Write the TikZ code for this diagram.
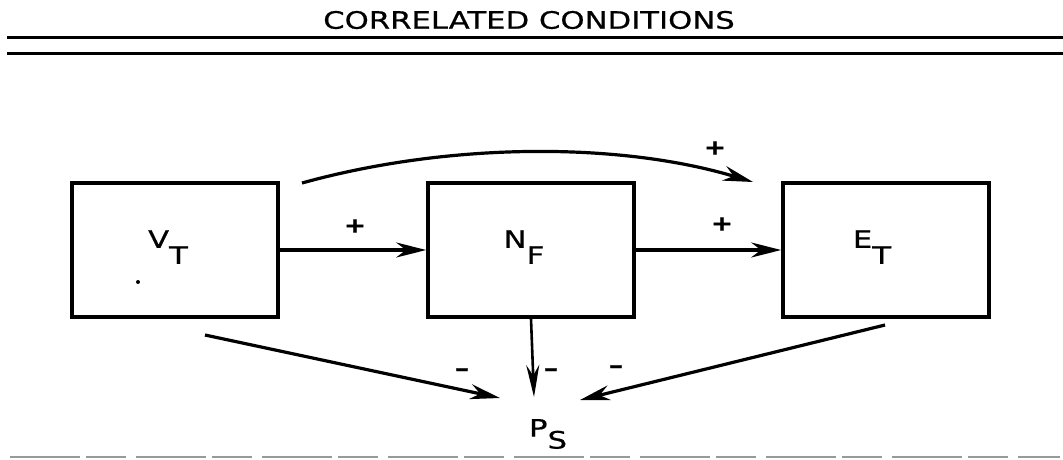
\documentclass[tikz,border=0pt]{standalone}
\usepackage{fontspec}
\setmainfont{DejaVu Sans}
\newfontfamily\lettering[FakeStretch=1.28, FakeBold=0.6]{DejaVu Sans}
\usetikzlibrary{arrows.meta, positioning}

\begin{document}
\begin{tikzpicture}[x=1pt, y=-1pt, >={Stealth[length=30pt, width=15pt]}, line width=3.2pt,
  block/.style={draw, line width=3.6pt, minimum width=206pt, minimum height=134pt, inner sep=0pt},
  varname/.style={font=\lettering\fontsize{24}{24}\selectfont, inner sep=0pt},
  sign/.style={font=\lettering\bfseries\fontsize{21}{21}\selectfont, inner sep=0pt},
  flow/.style={->, line width=3.2pt}]

\useasboundingbox (0,0) rectangle (1063,459);

% Title and double rule
\node[font=\lettering\fontsize{24}{24}\selectfont, inner sep=0pt] (title) at (529,20)
  {CORRELATED CONDITIONS};
\draw[line width=3pt] (7,37) -- (1063,37);
\draw[line width=3pt] (7,53) -- (1063,53);

% --- Boxes ---
\node[block] (vt) at (175,250) {};
\node[block] (nf) at (531,250) {};
\node[block] (et) at (886,250) {};

\node[varname] (vt-label) at (168,247) {V\raisebox{-16pt}{T}};
\node[varname] (nf-label) at (524,247) {N\raisebox{-16pt}{F}};
\node[varname] (et-label) at (872,247) {E\raisebox{-16pt}{T}};
\fill (138,282) circle (2pt);

\node[varname] (ps) at (548,434) {P\raisebox{-12pt}{S}};

% --- Free ends of the connectors ---
\coordinate (arc-start) at (302,183);
\coordinate (arc-end) at (753,182);
\coordinate (vt-foot) at (205,335);
\coordinate (et-foot) at (885,325);
\coordinate (ps-left) at (500,398);
\coordinate (ps-mid) at (534,397);
\coordinate (ps-right) at (580,400);

% --- Positive links ---
\draw[flow] (vt.east) -- (nf.west);
\draw[flow] (nf.east) -- (et.west);
\draw[flow] (arc-start) .. controls (450,142) and (620,142) .. (arc-end);

\node[sign] (plus-a) at (355,226) {+};
\node[sign] (plus-b) at (722,224) {+};
\node[sign] (plus-c) at (715,148) {+};

% --- Negative links ---
\draw[flow] (vt-foot) -- (ps-left);
\draw[flow, line width=2.6pt, >={Stealth[length=32pt, width=13pt]}] (nf.south) -- (ps-mid);
\draw[flow] (et-foot) -- (ps-right);

\node[sign, font=\lettering\bfseries\fontsize{22}{22}\selectfont] (minus-a) at (462,372) {–};
\node[sign, font=\lettering\bfseries\fontsize{22}{22}\selectfont] (minus-b) at (551,372) {–};
\node[sign, font=\lettering\bfseries\fontsize{22}{22}\selectfont] (minus-c) at (616,369) {–};

% Faint rule at the foot
\draw[black!40, line width=2pt, dash pattern=on 70pt off 6pt on 40pt off 10pt] (10,457) -- (1060,457);

\end{tikzpicture}
\end{document}
